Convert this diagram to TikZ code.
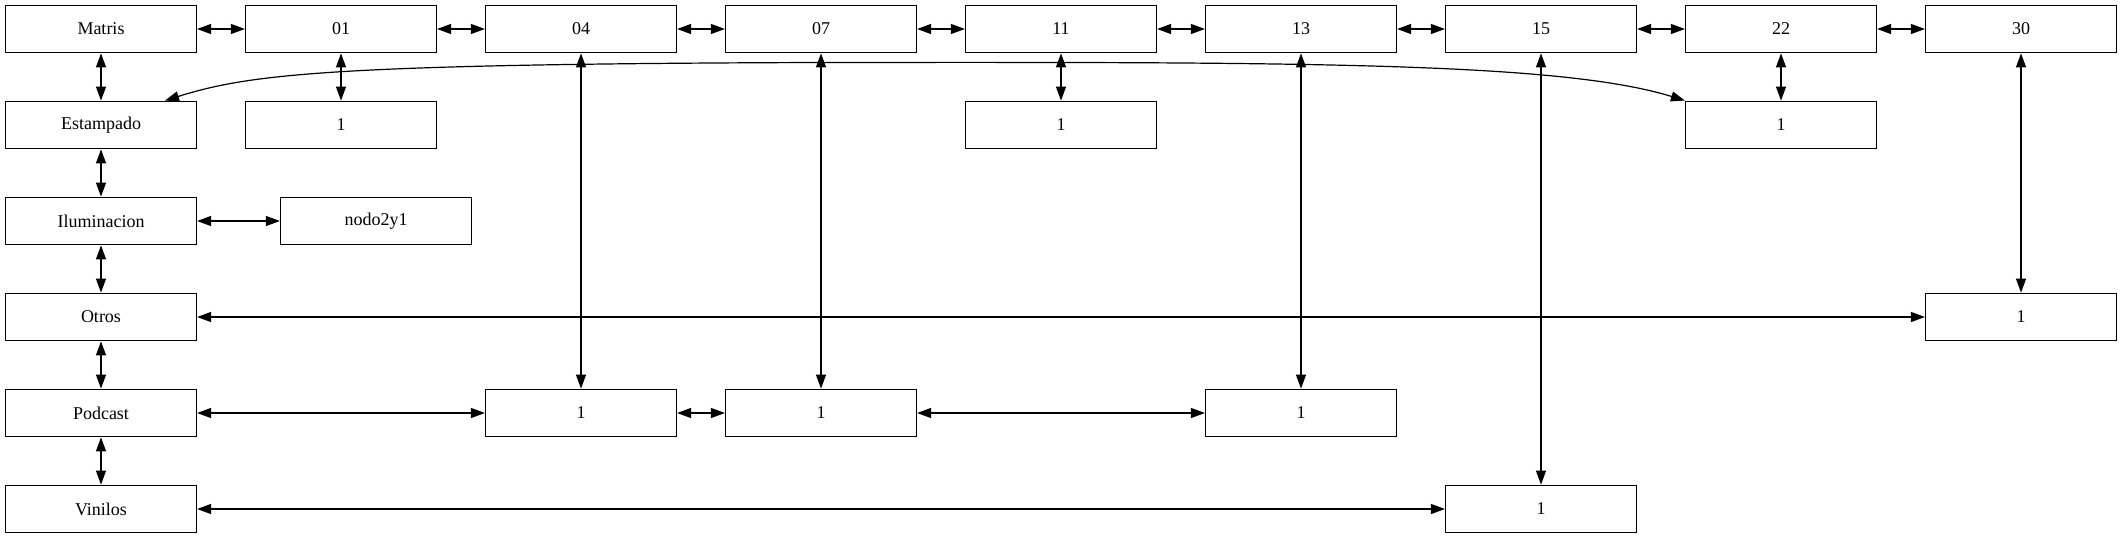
\documentclass[tikz,border=0pt]{standalone}
\usepackage{fontspec}
\setmainfont{Liberation Serif}
\usetikzlibrary{arrows.meta}
\begin{document}
\begin{tikzpicture}[x=0.5pt,y=-0.5pt,
 box/.style={draw, line width=0.6pt, minimum width=95.5pt, minimum height=23.8pt, inner sep=0pt, font=\fontsize{9}{10}\selectfont},
 link/.style={line width=0.6pt, {Triangle[length=7pt,width=5pt]}-{Triangle[length=7pt,width=5pt]}}]
\useasboundingbox (0,0) rectangle (2123,539);
% left column
\node[box] (matris) at (101,29) {Matris};
\node[box] (estampado) at (101,125) {Estampado};
\node[box] (ilum) at (101,221) {Iluminacion};
\node[box] (otros) at (101,317) {Otros};
\node[box] (podcast) at (101,413) {Podcast};
\node[box] (vinilos) at (101,509) {Vinilos};
% top row
\node[box] (n01) at (341,29) {01};
\node[box] (n04) at (581,29) {04};
\node[box] (n07) at (821,29) {07};
\node[box] (n11) at (1061,29) {11};
\node[box] (n13) at (1301,29) {13};
\node[box] (n15) at (1541,29) {15};
\node[box] (n22) at (1781,29) {22};
\node[box] (n30) at (2021,29) {30};
% others
\node[box] (a01) at (341,125) {1};
\node[box] (a11) at (1061,125) {1};
\node[box] (a22) at (1781,125) {1};
\node[box] (nodo) at (376,221) {nodo2y1};
\node[box] (o30) at (2021,317) {1};
\node[box] (p04) at (581,413) {1};
\node[box] (p07) at (821,413) {1};
\node[box] (p13) at (1301,413) {1};
\node[box] (v15) at (1541,509) {1};
% top row links
\draw[link] (matris) -- (n01);
\draw[link] (n01) -- (n04);
\draw[link] (n04) -- (n07);
\draw[link] (n07) -- (n11);
\draw[link] (n11) -- (n13);
\draw[link] (n13) -- (n15);
\draw[link] (n15) -- (n22);
\draw[link] (n22) -- (n30);
% left column links
\draw[link] (matris) -- (estampado);
\draw[link] (estampado) -- (ilum);
\draw[link] (ilum) -- (otros);
\draw[link] (otros) -- (podcast);
\draw[link] (podcast) -- (vinilos);
% short verticals
\draw[link] (n01) -- (a01);
\draw[link] (n11) -- (a11);
\draw[link] (n22) -- (a22);
% long verticals
\draw[link] (n04) -- (p04);
\draw[link] (n07) -- (p07);
\draw[link] (n13) -- (p13);
\draw[link] (n15) -- (v15);
\draw[link] (n30) -- (o30);
% horizontals
\draw[link] (ilum) -- (nodo);
\draw[link] (otros) -- (o30);
\draw[link] (podcast) -- (p04);
\draw[link] (p04) -- (p07);
\draw[link] (p07) -- (p13);
\draw[link] (vinilos) -- (v15);
% curve
\draw[link] ([xshift=32pt]estampado.north) .. controls (250,74) and (330,64) .. (820,62.5) .. controls (1300,62) and (1560,62) .. (a22.north west);
\end{tikzpicture}
\end{document}
